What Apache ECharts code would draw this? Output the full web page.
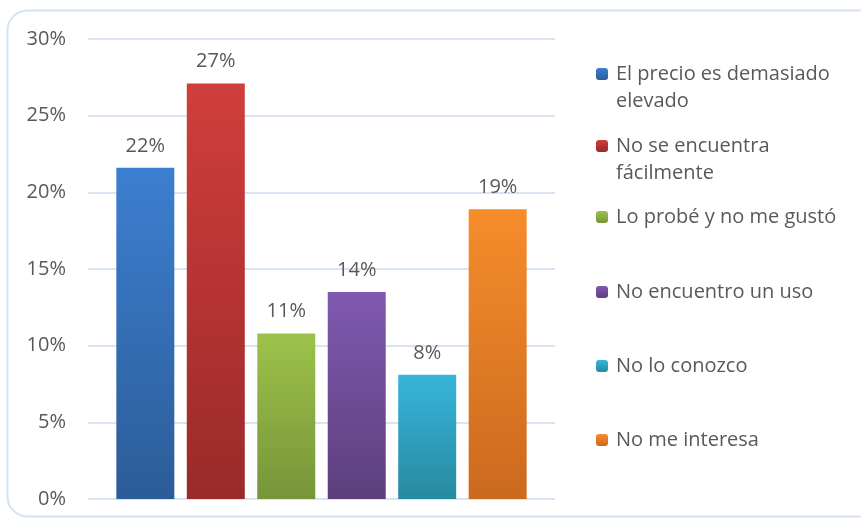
<!DOCTYPE html>
<html>
<head>
<meta charset="utf-8">
<script src="https://cdn.jsdelivr.net/npm/echarts@6/dist/echarts.min.js"></script>
<style>
html,body{margin:0;padding:0;background:#fff;}
#main{width:861px;height:522px;}
</style>
</head>
<body>
<div id="main"></div>
<script>
var seriesNames = ['El precio es demasiado elevado', 'No se encuentra fácilmente', 'Lo probé y no me gustó', 'No encuentro un uso', 'No lo conozco', 'No me interesa'];
var legendLabels = ['El precio es demasiado\nelevado', 'No se encuentra\nfácilmente', 'Lo probé y no me gustó', 'No encuentro un uso', 'No lo conozco', 'No me interesa'];
var values = [21.6, 27.1, 10.8, 13.5, 8.1, 18.9];
var yTicks = [0, 5, 10, 15, 20, 25, 30];
var gradTop = ['#3c7fd0', '#d03e3b', '#9dc24a', '#8059b0', '#37b5da', '#f68d2c'];
var gradBottom = ['#2c5c98', '#9a2a2a', '#769539', '#5d3f7d', '#268a9f', '#cb691e'];

var chart = echarts.init(document.getElementById('main'));
var FONT = 'Open Sans';
var FS = 20;
var legendCenters = [74, 146, 217, 292, 366, 440];

var series = seriesNames.map(function (name, i) {
  return {
    name: name,
    type: 'bar',
    data: [values[i]],
    barWidth: 58,
    barGap: '21.5%',
    itemStyle: {
      color: {
        type: 'linear', x: 0, y: 0, x2: 0, y2: 1,
        colorStops: [{offset: 0, color: gradTop[i]}, {offset: 1, color: gradBottom[i]}]
      }
    },
    label: {
      show: true,
      position: 'top',
      distance: 12,
      fontFamily: FONT,
      fontSize: FS,
      color: '#595959',
      formatter: function (p) { return Math.round(p.value) + '%'; }
    }
  };
});

var legends = seriesNames.map(function (name, i) {
  var twoLine = legendLabels[i].indexOf('\n') >= 0;
  var top = twoLine ? legendCenters[i] - 40.5 : legendCenters[i] - 13.5;
  return {
    show: true,
    orient: 'vertical',
    left: 596,
    top: top,
    padding: 0,
    itemWidth: 12,
    itemHeight: 12,
    selectedMode: false,
    data: [name],
    formatter: function () { return twoLine ? '\n' + legendLabels[i] : legendLabels[i]; },
    textStyle: {
      fontFamily: FONT,
      fontSize: FS,
      color: '#595959',
      lineHeight: 27,
      padding: [0, 0, 0, 3]
    }
  };
});

chart.setOption({
  animation: false,
  backgroundColor: '#fff',
  graphic: [{
    type: 'rect',
    shape: {x: 7.5, y: 10.5, width: 900, height: 506, r: 20},
    style: {fill: 'none', stroke: '#d6e3f3', lineWidth: 2},
    z: -1
  }],
  grid: {left: 88, right: 306, top: 39, bottom: 23},
  legend: legends,
  xAxis: {
    type: 'category',
    data: [''],
    axisLine: {show: false},
    axisTick: {show: false},
    axisLabel: {show: false}
  },
  yAxis: {
    type: 'value',
    min: yTicks[0],
    max: yTicks[yTicks.length - 1],
    interval: yTicks[1] - yTicks[0],
    axisLine: {show: false},
    axisTick: {show: false},
    axisLabel: {
      fontFamily: FONT,
      fontSize: FS,
      color: '#595959',
      margin: 22,
      formatter: function (v) { return v + '%'; }
    },
    splitLine: {lineStyle: {color: '#d9e4f2', width: 2}}
  },
  series: series
});
</script>
</body>
</html>
